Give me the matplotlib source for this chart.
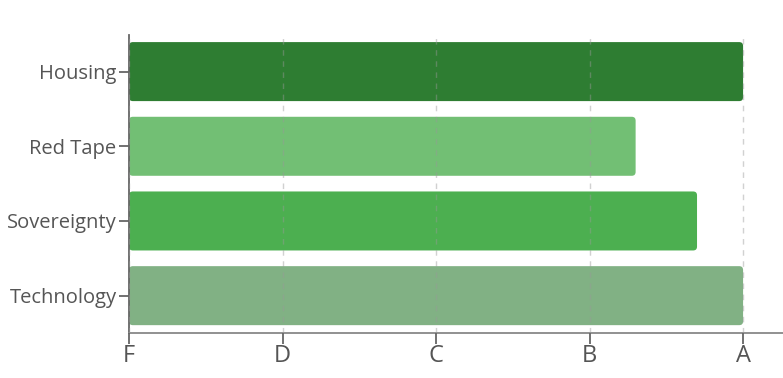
import matplotlib
matplotlib.use('Agg')
import matplotlib.pyplot as plt
from matplotlib.patches import FancyBboxPatch

categories = ['Housing', 'Red Tape', 'Sovereignty', 'Technology']
scores = [4.0, 3.3, 3.7, 4.0]
colors = ['#2e7d32', '#72bf74', '#4caf50', '#81b184']
grade_labels = ['F', 'D', 'C', 'B', 'A']

plt.rcParams['font.family'] = ['Open Sans', 'DejaVu Sans']

fig = plt.figure(figsize=(7.83, 3.78), dpi=100)
ax = fig.add_axes([129 / 783, 1 - 333 / 378, 1 - 129 / 783, (333 - 35) / 378])

ypos = list(range(len(categories)))[::-1]
bars = ax.barh(ypos, scores, height=0.79, color=colors, zorder=2)

ax.set_xlim(0, 4.26)
ax.set_ylim(-0.5, 3.49)

# swap the plain bars for rounded ones
aspect = (153.5 / 74.67)
for b, c in zip(bars, colors):
    x, y = b.get_x(), b.get_y()
    w, h = b.get_width(), b.get_height()
    b.set_visible(False)
    p = FancyBboxPatch((x, y), w, h,
                       boxstyle='round,pad=0,rounding_size=0.025',
                       mutation_aspect=aspect, fc=c, ec='none', zorder=2)
    ax.add_patch(p)

ax.set_yticks(ypos)
ax.set_yticklabels(categories)
ax.set_xticks(range(len(grade_labels)))
ax.set_xticklabels(grade_labels)

ax.grid(axis='x', linestyle=(0, (4, 4)), color='#999999', alpha=0.45, lw=1, zorder=3)
ax.set_axisbelow(False)

for s in ['top', 'right']:
    ax.spines[s].set_visible(False)
ax.spines['left'].set_color('#666666')
ax.spines['bottom'].set_color('#888888')
ax.spines['left'].set_linewidth(1.3)
ax.spines['bottom'].set_linewidth(1.3)

ax.tick_params(axis='y', length=7, width=1.3, color='#666666', labelsize=14.5,
               labelcolor='#555555', pad=2)
ax.tick_params(axis='x', length=8, width=1.3, color='#666666', labelsize=17,
               labelcolor='#555555', pad=0)

fig.savefig('out.png', dpi=100)
